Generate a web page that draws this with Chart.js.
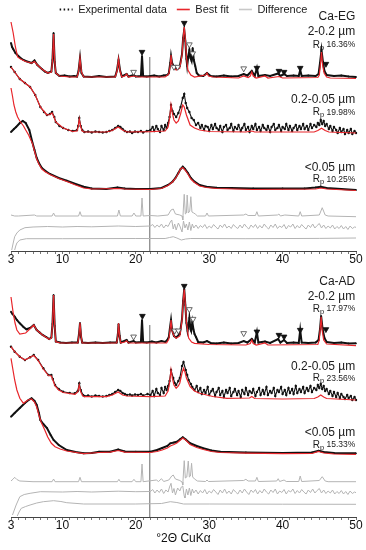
<!DOCTYPE html>
<html>
<head>
<meta charset="utf-8">
<script src="https://cdn.jsdelivr.net/npm/chart.js@4.4.1/dist/chart.umd.min.js"></script>
<style>
  html, body { margin: 0; padding: 0; background: #fff; }
  #wrap { position: relative; width: 366px; height: 550px; }
  canvas { position: absolute; left: 0; }
  #egChart { top: 0; }
  #adChart { top: 270px; }
</style>
</head>
<body>
<div id="wrap">
  <canvas id="egChart" width="366" height="270"></canvas>
  <canvas id="adChart" width="366" height="280"></canvas>
</div>
<script>
// x axis (°2θ)
const tickLabelsX = [3, 10, 20, 30, 40, 50];
const refAngle = 21.9;

// legend
const legendNames = ['Experimental data', 'Best fit', 'Difference'];

// panel texts
const sizeNames = ['2-0.2 µm', '0.2-0.05 µm', '<0.05 µm'];
const egRp = ['16.36%', '19.98%', '10.25%'];
const adRp = ['17.97%', '23.56%', '15.33%'];

// ---- Ca-EG, stacked intensities (a.u.) ----
const egCoarseExp = [[3.0,208],[3.15,204],[3.3,202],[3.6,198],[4.0,195],[4.3,193],[4.7,191],[5.0,190],[5.4,189],[5.8,188],[6.2,190.5],[6.6,186],[7.2,182],[7.6,179.5],[8.0,178],[8.5,179.5],[8.65,191],[8.8,218],[8.95,189],[9.1,178],[9.6,175],[10.3,175.5],[11,174.5],[11.6,175],[12.0,174.5],[12.2,180],[12.4,193],[12.6,178],[12.9,174.5],[14,174],[15,175],[16,174],[17.2,174.5],[17.45,181],[17.65,191],[17.85,181],[18.1,174.5],[18.75,177],[19.0,174.5],[19.7,176],[20,174.5],[20.7,175],[20.85,195],[21.0,175],[21.5,174.5],[22.5,175.5],[23.2,174.5],[23.8,175.5],[24.3,176],[24.5,178],[24.7,188],[24.8,195],[24.95,188],[25.2,184],[25.5,182],[26.0,185],[26.3,197],[26.45,213],[26.6,221],[26.75,210],[26.9,192],[27.0,185],[27.15,194],[27.3,201],[27.45,193],[27.6,190],[27.75,203],[27.9,191],[28.1,185],[28.3,178],[28.6,175.5],[29.2,175],[29.7,178],[30.2,175],[31,174.5],[32,175.5],[33,174.5],[34,175],[34.7,177],[35.2,175.5],[35.8,180],[36.2,175],[36.5,183],[36.7,175],[37.6,176],[38.3,175],[39.4,177.5],[39.7,175],[40.2,177],[40.6,175],[41.5,175.5],[42.2,175],[42.4,181],[42.6,175],[43.5,175.5],[44.5,175],[44.9,177],[45.1,188],[45.3,201],[45.5,189],[45.7,180],[46.0,176],[47,175],[48,175.5],[49,174.5],[50,174]];
const egCoarseFit = [[3.0,229],[3.3,218],[3.6,204],[3.9,194],[4.3,192],[5.0,189.5],[5.8,188],[6.2,189.5],[6.6,186],[7.2,182],[8.0,178],[8.5,179],[8.65,190],[8.8,217],[8.95,190],[9.1,178],[9.6,175],[11,174],[12.0,174],[12.2,179],[12.4,193],[12.6,179],[12.9,174],[17.2,174],[17.45,180],[17.65,192],[17.85,180],[18.1,174],[18.5,175],[18.75,177],[19.0,174],[19.8,175],[20.3,174],[24.0,174],[24.5,177],[24.7,186],[24.8,196],[24.95,186],[25.2,183],[25.5,181],[26.0,183],[26.3,196],[26.45,212],[26.6,224],[26.75,212],[26.9,194],[27.1,181],[27.5,176],[28,174],[29.5,176],[29.7,178],[29.9,175],[30.5,174],[34,173],[34.7,175],[35.3,173.5],[35.6,175],[35.8,179],[36.0,175],[36.4,173],[37.6,175],[38.0,173],[39.5,174.5],[40,173],[44.8,173.5],[45.0,176],[45.15,186],[45.3,199],[45.45,186],[45.65,178],[46.0,174],[46.5,173],[50,172.5]];
const egMidExp = [[3.0,184],[3.5,179],[4.2,172],[4.9,168],[5.6,164],[6.3,156],[7.0,144],[7.5,139],[7.9,136],[8.3,137],[8.6,139],[8.9,134],[9.1,129],[9.6,125],[10.1,123],[10.8,121],[11.4,120],[12.0,121],[12.15,125],[12.3,133],[12.5,125],[12.7,121],[13.0,119],[13.5,119.5],[14,118.5],[14.5,119.5],[15,119],[15.5,118.5],[16,119],[16.4,120],[16.8,121],[17.2,123],[17.6,125],[17.9,124],[18.2,122],[18.5,120],[18.8,119],[19.2,119.5],[19.5,118],[19.9,119.5],[20.3,119],[20.7,120],[21,118.5],[21.5,120],[22.0,121],[22.3,124],[22.5,120],[22.8,125],[23.0,122],[23.3,119],[23.5,125],[23.8,121],[24.0,126],[24.2,123],[24.4,128],[24.6,134],[24.8,146],[25.0,140],[25.2,137],[25.5,134],[25.8,138],[26.1,144],[26.4,153],[26.6,157],[26.8,148],[27.0,143],[27.3,139],[27.6,133],[27.9,131],[28.2,126],[28.5,128],[28.8,123],[29.0,126],[29.3,121],[29.5,125],[29.8,124],[30.0,120],[30.3,126],[30.5,122],[30.8,127],[31.0,123],[31.3,121],[31.5,125],[31.8,119],[32.0,124],[32.3,126],[32.5,121],[32.8,123],[33.0,127],[33.3,120],[33.5,124],[33.8,122],[34.0,126],[34.3,120],[34.5,123],[34.8,127],[35.0,121],[35.3,124],[35.5,119],[35.8,125],[36.0,122],[36.3,127],[36.5,121],[36.8,124],[37.0,120],[37.3,126],[37.5,123],[37.8,121],[38.0,125],[38.3,119],[38.5,124],[38.8,127],[39.0,121],[39.3,123],[39.5,126],[39.8,120],[40.0,124],[40.3,122],[40.5,127],[40.8,121],[41.0,125],[41.3,120],[41.5,123],[41.8,126],[42.0,121],[42.3,125],[42.5,122],[42.8,127],[43.0,122],[43.3,125],[43.5,121],[43.8,127],[44.0,123],[44.3,126],[44.6,124],[44.8,128],[45.0,126],[45.2,131],[45.4,127],[45.6,130],[45.8,125],[46.0,127],[46.3,122],[46.5,125],[46.8,120],[47.0,124],[47.3,121],[47.5,118],[47.8,123],[48.0,119],[48.3,122],[48.5,117],[48.8,121],[49.0,118],[49.3,122],[49.5,117],[49.8,120],[50,118]];
const egMidFit = [[3.0,184],[3.5,179],[4.2,172],[4.9,168],[5.6,164],[6.3,156],[7.0,144],[7.9,136],[8.3,136.5],[8.6,138],[8.9,133],[9.1,129],[10.1,123],[11.4,119.5],[12.0,120],[12.15,124],[12.3,132],[12.5,124],[12.7,120],[13.0,119],[16,119],[16.8,120.5],[17.6,124],[18.2,121],[18.8,119],[22,119.3],[24.0,120],[24.4,124],[24.6,132],[24.8,146],[25.0,137],[25.2,131],[25.5,128],[25.8,130],[26.1,137],[26.4,146],[26.6,144],[26.9,136],[27.4,126],[28.0,123],[28.7,121],[30,119.5],[35,119],[35.8,120],[36.2,119],[44.3,119],[44.8,120.5],[45.3,122.7],[45.8,120.5],[46.3,119],[50,118]];
const egFineExp = [[3.0,119],[3.4,122],[3.7,124],[4.2,128],[4.6,130],[5.0,128],[5.5,121],[5.9,109],[6.2,101],[6.5,93],[6.8,88],[7.2,83],[7.7,80],[8.3,77],[9.5,73],[10.6,70.3],[11.8,67],[12.9,64.3],[14,62.5],[16,62],[17.5,63.5],[18.5,62.5],[20,62],[22,62],[23.5,63],[24.4,66],[25.0,69.3],[25.4,73],[25.8,78],[26.1,82],[26.4,84.3],[26.7,82],[27.1,78],[27.5,73],[28.0,69.3],[28.7,66],[29.6,64.3],[31,63.3],[33,63],[36,62.5],[40,62.5],[43,62.5],[44.5,63.5],[45.2,64.3],[46,63],[48,62],[50,61]];
const egFineFit = [[3.0,163],[3.2,155],[3.4,146],[3.65,139],[3.9,134],[4.2,130],[4.4,128],[4.7,125],[5.0,121],[5.4,116],[5.7,111],[5.9,108],[6.2,100],[6.5,92],[6.8,87],[7.2,82],[7.7,79],[8.3,76.5],[9.5,72.5],[10.6,69.5],[11.8,66],[12.9,63],[14,62],[17.5,62.5],[18.5,62],[22,61.5],[23.5,62.5],[24.4,65.5],[25.0,69],[25.4,72.5],[25.8,77.5],[26.1,82],[26.4,83.5],[26.7,81],[27.1,77],[27.5,72],[28.0,68.5],[28.7,65],[29.6,63.5],[31,62.5],[36,61.5],[44.5,62],[45.2,63],[46,62],[50,60.5]];
const egCoarseDiff = [[3.0,36],[3.5,35],[4,35],[6.2,36],[6.5,35],[8.6,35],[8.8,38],[9.0,35],[12.2,35],[12.4,39.3],[12.6,35],[17.5,35],[17.7,41],[17.9,35],[19.5,35],[19.75,38],[20,35],[20.7,35],[20.85,53],[21.0,35],[22,35.5],[23,35],[24.4,36],[24.8,41],[25.1,42],[25.4,37],[26.0,36],[26.3,35],[26.4,31],[26.5,45],[26.6,56.7],[26.75,37],[26.9,38],[27.0,56],[27.15,38],[27.35,40],[27.5,54.3],[27.65,39],[27.9,38],[28.1,37],[28.4,35],[29.5,35],[29.7,38],[29.9,35],[34.7,36],[35,37],[35.3,35.5],[36.3,35.5],[36.5,39.3],[36.7,35],[39.3,36],[39.5,37],[39.7,35],[40.3,36],[42.2,35],[42.4,39.3],[42.6,35],[45.0,36],[45.4,43.3],[45.8,36],[46.2,35],[50,34.3]];
const egMidDiff = [[3.1,1],[3.3,8],[3.5,14.3],[3.8,18],[4.2,21],[4.9,23.3],[6,24],[8,24.5],[10,24],[12,24.5],[14,24.2],[17.6,25],[20,24.5],[22.0,25],[22.3,26.5],[22.6,23.5],[22.9,26],[23.2,24],[23.5,27],[23.8,23],[24.1,26],[24.4,24.5],[24.7,29],[24.9,31],[25.1,22],[25.3,27],[25.5,21],[25.8,28],[26.0,25],[26.3,19],[26.5,30],[26.7,23],[26.9,27],[27.1,21],[27.3,29],[27.5,20.5],[27.7,27],[27.9,23],[28.2,26],[28.5,22.5],[28.8,25.5],[29.1,23.5],[29.4,26.5],[29.7,22.5],[30.0,25],[30.3,23],[30.6,26.5],[30.9,24],[31.2,22],[31.5,26],[31.8,23.5],[32.1,27],[32.4,23],[32.7,25],[33.0,22.5],[33.3,26.5],[33.6,24],[33.9,22.5],[34.2,26],[34.5,23],[34.8,27],[35.1,24],[35.4,22],[35.7,26],[36.0,23.5],[36.3,26.5],[36.6,22.5],[36.9,25.5],[37.2,23],[37.5,27],[37.8,24],[38.1,22],[38.4,26],[38.7,23.5],[39.0,27],[39.3,22.5],[39.6,25],[39.9,23.5],[40.2,26.5],[40.5,22],[40.8,25.5],[41.1,24],[41.4,27],[41.7,22.5],[42.0,25.5],[42.3,23],[42.6,26.5],[42.9,24],[43.2,22],[43.5,26],[43.8,23.5],[44.1,27],[44.4,23],[44.7,25.5],[45.0,27.5],[45.3,23],[45.6,26],[45.9,22.5],[46.2,25],[46.5,23],[46.8,26],[47.1,22],[47.4,24.5],[47.7,22.5],[48.0,25.5],[48.3,22],[48.6,24.5],[48.9,21.5],[49.2,25],[49.5,22.5],[49.8,24],[50,23.7]];
const egFineDiff = [[3.5,1],[3.65,5],[3.8,8],[4.2,11],[5.1,12.3],[10,12.3],[20,12.5],[24,12.5],[24.6,13.5],[25.1,14.3],[25.6,13],[26.2,11],[26.8,12],[27.5,12.5],[35,12.3],[45,12.6],[50,13]];
const egFilledMarks = [[20.85,199],[26.6,228],[36.5,183],[39.5,180],[40.2,179],[42.4,183],[45.9,187]];
const egOpenMarks = [[19.7,179],[25.2,184],[25.7,184],[27.3,206.5],[27.75,197.5],[34.7,182.5]];

// ---- Ca-AD, stacked intensities (a.u.) ----
const adCoarseExp = [[3.0,205.3],[3.2,203],[3.5,200.3],[3.8,197],[4.2,193.7],[4.7,190],[5.1,187.7],[5.6,189],[6.1,192],[6.5,187],[6.9,184.5],[7.3,182],[7.8,180],[8.2,178],[8.5,179.5],[8.65,193],[8.8,222],[8.95,191],[9.1,175.5],[9.7,174.5],[10.5,174],[11.3,174.5],[12.1,174.5],[12.25,182],[12.4,194],[12.55,180],[12.7,174.5],[13.5,174],[14.5,174.5],[15.5,174],[16.5,174.5],[17.4,174.5],[17.55,182],[17.65,193],[17.8,181],[17.95,174.5],[18.75,177],[19.0,174.5],[19.7,176],[20.0,174.5],[20.7,175],[20.85,197],[21.0,175],[21.5,174.5],[22.2,175.5],[22.8,174.5],[23.5,176],[24.0,175],[24.3,177],[24.5,180],[24.65,189],[24.8,197],[24.95,187],[25.2,181],[25.5,179.5],[26.0,183],[26.3,198],[26.45,216],[26.6,228],[26.75,212],[26.9,194],[27.05,186],[27.2,192],[27.3,199],[27.45,188],[27.55,186],[27.7,195],[27.85,188],[28.0,183],[28.2,180],[28.5,175],[29.2,174.5],[29.7,176],[30.2,174],[31,173.5],[32,174.5],[33,173.5],[34,174],[34.7,176],[35.2,174.5],[35.8,178],[36.2,174.5],[36.5,185],[36.7,174.5],[37.6,175.5],[38.3,174],[39.4,178],[39.7,174.5],[40.2,177],[40.6,174],[41.5,174.5],[42.2,174],[42.4,187],[42.6,174.5],[43.5,174],[44.5,174.5],[44.9,177],[45.1,188],[45.25,201],[45.45,188],[45.7,179],[46.0,175],[47,174],[48,174.5],[49,173.5],[50,173.7]];
const adCoarseFit = [[3.0,220],[3.15,212],[3.3,204],[3.55,194],[3.8,187],[4.2,183],[5.0,184],[5.7,189],[6.1,192],[6.5,187],[7.3,182],[8.2,177.7],[8.5,179],[8.65,192],[8.8,222],[8.95,192],[9.1,175.3],[9.7,174],[12.1,174],[12.25,181],[12.4,194.3],[12.55,181],[12.7,174],[17.4,174],[17.55,181],[17.65,193.7],[17.8,181],[17.95,174],[18.5,175],[18.75,176.3],[19.0,174],[24.2,174],[24.5,178],[24.65,186],[24.8,197],[24.95,186],[25.2,181],[25.5,178.7],[26.0,181],[26.3,197],[26.45,215],[26.6,227.7],[26.75,213],[26.9,195],[27.2,179],[27.6,175],[28,173.7],[30,172.5],[35,172],[35.6,173.5],[35.8,177],[36.0,173.5],[36.4,172],[37.6,174],[38.0,172],[44.8,172.5],[45.0,177],[45.1,186],[45.25,200.3],[45.4,186],[45.6,177],[46.0,173],[50,171.3]];
const adMidExp = [[3.0,170.3],[3.5,165.3],[4.2,160.3],[4.9,157],[5.6,159.7],[6.1,162],[6.7,157],[7.4,148.7],[8.1,142],[8.5,142],[8.7,138],[9.0,132],[9.5,128],[10.1,125.3],[11.0,124],[11.7,123.7],[12.1,126],[12.3,133.7],[12.5,127],[12.8,122],[13.0,121],[13.5,121.5],[14,120.5],[14.5,121.5],[15,121],[15.5,120.5],[16,121],[16.4,122],[16.8,123],[17.2,125],[17.6,127],[17.9,126],[18.2,124],[18.5,123],[18.8,122],[19.2,122.5],[19.5,121.5],[19.9,122.5],[20.3,122],[20.7,123],[21,121.5],[21.6,123],[22.0,122],[22.3,126],[22.5,121],[22.8,128],[23.0,124],[23.3,122],[23.5,129],[23.8,124],[24.0,130],[24.2,127],[24.4,131],[24.6,136],[24.8,147],[25.1,139],[25.3,134],[25.5,132],[25.8,136],[26.0,139],[26.3,151],[26.5,155],[26.8,147],[27.0,142],[27.2,137],[27.5,133],[27.7,130],[28.0,127],[28.3,131],[28.5,125],[28.8,129],[29.0,123],[29.3,127],[29.5,124],[29.8,130],[30.0,122],[30.3,126],[30.5,128],[30.8,121],[31.0,125],[31.3,129],[31.5,122],[31.8,126],[32.0,120],[32.3,127],[32.5,124],[32.8,129],[33.0,121],[33.3,125],[33.5,128],[33.8,122],[34.0,126],[34.3,120],[34.5,127],[34.8,123],[35.0,129],[35.3,122],[35.5,126],[35.8,124],[36.0,128],[36.3,121],[36.5,125],[36.8,129],[37.0,122],[37.3,127],[37.5,123],[37.8,130],[38.0,122],[38.3,126],[38.5,124],[38.8,129],[39.0,121],[39.3,127],[39.5,125],[39.8,130],[40.0,123],[40.3,127],[40.5,122],[40.8,129],[41.0,124],[41.3,128],[41.5,123],[41.8,131],[42.0,124],[42.3,128],[42.5,125],[42.8,130],[43.0,124],[43.3,129],[43.5,126],[43.8,131],[44.0,125],[44.3,129],[44.6,127],[44.8,132],[45.0,129],[45.2,133],[45.4,128],[45.6,131],[45.8,126],[46.0,128],[46.3,123],[46.5,126],[46.8,121],[47.0,125],[47.3,120],[47.5,124],[47.8,119],[48.0,123],[48.3,120],[48.5,118],[48.8,122],[49.0,119],[49.3,121],[49.5,117],[49.8,120],[50,117]];
const adMidFit = [[3.0,170.3],[3.5,165.3],[4.2,160.3],[4.9,157],[5.6,159.7],[6.1,161.5],[6.7,156.5],[7.4,148],[8.1,141.5],[8.5,141],[8.7,137],[9.0,131],[9.5,127],[10.1,124.5],[11.7,122.7],[12.1,125],[12.3,132],[12.5,125],[12.8,121],[13.0,120.3],[16,120.3],[16.8,122],[17.6,125],[18.2,122],[18.8,121],[22,120.3],[24.0,121],[24.4,126],[24.6,134],[24.8,147],[25.0,138],[25.2,132],[25.5,128.7],[25.8,131],[26.0,134],[26.3,144],[26.5,148.7],[26.7,145],[26.9,139],[27.4,130.3],[28.0,126],[28.7,123.7],[30.5,120.5],[32.4,118.7],[35.5,119],[35.8,120.5],[36.2,118.5],[40,118],[44.3,118.5],[44.8,120],[45.2,122],[45.6,120],[46,118.5],[50,117]];
const adFineExp = [[3.0,100.3],[3.5,104],[4.2,109],[4.9,114],[5.4,117],[5.8,118.7],[6.2,116],[6.5,112],[6.8,104],[7.0,97],[7.4,93],[7.9,89],[8.4,82],[8.8,77],[9.5,72],[10.6,67],[11.8,65],[12.9,63.7],[14,64],[15,65.3],[16.5,65.3],[17.6,67.5],[18.5,65.5],[20,65.3],[22,65.3],[22.9,67],[23.6,69],[24.3,71],[24.7,73.7],[25.2,74.5],[25.6,75.3],[26.0,77.5],[26.4,79.7],[26.8,77.5],[27.4,73.7],[28.3,71],[29.2,68.7],[30.3,66.5],[31.5,65.3],[35,64.5],[40,64],[44,64.5],[44.9,66.3],[45.6,65],[47,64],[50,63.7]];
const adFineFit = [[3.0,158.7],[3.2,150],[3.5,137],[3.8,127],[4.2,118.7],[4.7,113.7],[5.3,117],[5.8,118],[6.2,115],[6.5,110],[6.8,102],[7.1,95],[7.6,87],[8.0,80],[8.5,73.7],[9.0,70.3],[9.7,68],[10.6,66],[12.9,63.3],[15,64.5],[16.5,64.8],[17.6,66.5],[18.5,64.8],[22,64.5],[22.9,65.5],[23.6,67],[24.3,69],[24.7,71],[25.2,72.5],[25.6,74],[26.0,76.5],[26.4,79],[26.8,77],[27.4,72.5],[28.3,69.5],[29.2,67.5],[30.3,65.5],[31.5,64.5],[35,63.8],[40,63.3],[44,63.5],[44.9,65.5],[45.6,64],[47,63],[50,62.7]];
const adCoarseDiff = [[3.0,36],[3.3,38],[3.5,39.7],[3.8,37.5],[4.2,36],[6,35.3],[8.6,35.3],[8.8,38],[9.0,35.3],[12.2,35.3],[12.4,39.7],[12.6,35.3],[17.5,35.3],[17.7,37.7],[17.9,35.3],[19.5,35.3],[19.75,37.7],[20,35.3],[20.7,35.3],[20.85,53],[21.0,35.3],[22.8,37],[23.1,35.5],[23.5,38.3],[23.8,35.5],[24.5,37],[24.9,41],[25.1,42],[25.4,38],[26.0,36.5],[26.3,35],[26.4,32],[26.5,45],[26.6,56.3],[26.75,39],[26.95,40],[27.15,56],[27.3,40],[27.45,41],[27.6,53.7],[27.75,40],[28.0,38],[28.4,36],[29.5,35.5],[29.7,37],[29.9,35.5],[34.7,36.5],[35,37.7],[35.3,36],[36.3,36],[36.5,39.7],[36.7,35.5],[39.2,36],[39.4,38.3],[39.6,35.5],[40.2,37],[40.5,35.5],[42.2,35.5],[42.4,41],[42.6,35.5],[45.0,36.5],[45.4,40.3],[45.8,36],[46.2,35.3],[50,35.3]];
const adMidDiff = [[3.2,2],[3.45,7],[3.7,12],[4.2,20.3],[4.8,22.5],[5.6,23.7],[7,25.3],[10,25],[12,25.5],[14,25],[17.6,25.8],[20,25.3],[22.0,25.5],[22.3,27.5],[22.6,24],[22.9,27],[23.2,24.5],[23.5,28],[23.8,23.5],[24.1,27],[24.4,25],[24.6,30],[24.8,33.7],[25.0,24],[25.2,28.5],[25.4,22],[25.7,29],[26.0,26],[26.2,30],[26.4,31],[26.6,21],[26.7,19],[26.9,28],[27.1,22],[27.3,29],[27.5,21.5],[27.7,28],[27.9,24],[28.2,27],[28.5,23],[28.8,26.5],[29.1,24],[29.4,27.5],[29.7,23],[30.0,26],[30.3,24],[30.6,27.5],[30.9,25],[31.2,22.5],[31.5,27],[31.8,24],[32.1,28],[32.4,23.5],[32.7,26],[33.0,23],[33.3,27.5],[33.6,25],[33.9,23],[34.2,27],[34.5,24],[34.8,28],[35.1,25],[35.4,22.5],[35.7,27],[36.0,24.5],[36.3,27.5],[36.6,23],[36.9,26.5],[37.2,24],[37.5,28],[37.8,25],[38.1,23],[38.4,27],[38.7,24.5],[39.0,28],[39.3,23],[39.6,26],[39.9,24.5],[40.2,27.5],[40.5,23],[40.8,26.5],[41.1,25],[41.4,28],[41.7,23.5],[42.0,26.5],[42.3,24],[42.6,27.5],[42.9,25],[43.2,23],[43.5,27],[43.8,24.5],[44.1,28],[44.4,24],[44.7,26.5],[45.0,28.5],[45.3,24],[45.6,27],[45.9,23.5],[46.2,26],[46.5,24],[46.8,27],[47.1,23],[47.4,25.5],[47.7,23.5],[48.0,26.5],[48.3,23],[48.6,25.5],[48.9,22.5],[49.2,26],[49.5,23.5],[49.8,25],[50,24.3]];
const adFineDiff = [[3.85,1],[4.1,5],[4.4,8.7],[5.0,10.5],[5.6,12],[6.5,14],[7.4,15.3],[8.8,16.3],[9.8,15.5],[10.6,14.3],[12.9,13],[20,13],[23.5,13.5],[24.7,15.3],[25.6,14.5],[26.5,13],[30,13],[40,12.8],[50,12.7]];
const adFilledMarks = [[20.9,201],[26.6,231],[36.5,185.3],[39.5,182],[40.2,180.3],[42.4,187],[45.9,187.7]];
const adOpenMarks = [[19.7,180.3],[25.3,186.3],[25.8,186.3],[27.3,207.7],[27.8,198],[34.7,183.7]];

const RED = '#e8262b';
const BLACK = '#111111';
const GREY = '#b4b4b4';
const FONT = "'Liberation Sans', Arial, sans-serif";

Chart.defaults.font.family = FONT;
Chart.defaults.color = '#1a1a1a';

function fitLine(data) {
  return { data, borderColor: RED, borderWidth: 1.2, pointRadius: 0, tension: 0, fill: false, clip: false, order: 1 };
}
// smooth patterns: thick black trace; noisy patterns: thin trace with dots
function expLine(data, noisy) {
  return {
    data, borderColor: BLACK, backgroundColor: BLACK,
    borderWidth: noisy ? 1.1 : 2, pointRadius: noisy ? 1.2 : 0.9, pointBorderWidth: 0,
    tension: 0, fill: false, clip: false, order: 2
  };
}
function diffLine(data) {
  return { data, borderColor: GREY, borderWidth: 1, pointRadius: 0, tension: 0, fill: false, clip: false, order: 3 };
}
function markSet(data, filled) {
  return {
    data, showLine: false, pointStyle: 'triangle', rotation: 180, pointRadius: 3.3,
    pointBackgroundColor: filled ? BLACK : '#fff', pointBorderColor: filled ? BLACK : '#444',
    pointBorderWidth: 0.8, clip: false, order: 0
  };
}
function refLine(top) {
  return { data: [[refAngle, 0], [refAngle, top]], borderColor: '#8a8a8a', borderWidth: 1.3, pointRadius: 0, clip: false, order: 4 };
}

// right-hand panel texts
const panelText = {
  id: 'panelText',
  afterDatasetsDraw(chart, args, o) {
    const { ctx, scales: { x, y } } = chart;
    const right = x.getPixelForValue(49.9);
    ctx.save();
    ctx.fillStyle = '#1a1a1a';
    ctx.textBaseline = 'middle';
    ctx.textAlign = 'right';
    ctx.font = '12px ' + FONT;
    o.heads.forEach((t, i) => ctx.fillText(t, right, y.getPixelForValue(o.headY[i])));
    o.rp.forEach((t, i) => {
      const py = y.getPixelForValue(o.rpY[i]);
      ctx.textAlign = 'left';
      ctx.font = '8.5px ' + FONT;
      const wVal = ctx.measureText(' ' + t).width;
      ctx.font = '7.5px ' + FONT;
      const wP = ctx.measureText('p').width;
      ctx.font = '10px ' + FONT;
      const wR = ctx.measureText('R').width;
      let px = right - wVal - wP - wR;
      ctx.fillText('R', px, py);
      px += wR;
      ctx.font = '7.5px ' + FONT;
      ctx.fillText('p', px, py + 2.5);
      px += wP;
      ctx.font = '8.5px ' + FONT;
      ctx.fillText(' ' + t, px, py);
    });
    ctx.restore();
  }
};

function xAxis(height, withTitle) {
  return {
    type: 'linear', min: 3, max: 50,
    afterBuildTicks: s => {
      const t = [];
      for (let v = 3; v <= 50; v++) t.push({ value: v });
      s.ticks = t;
    },
    afterFit: s => { s.height = height; },
    ticks: {
      autoSkip: false, maxRotation: 0, padding: -2, color: '#111',
      font: { size: 12 },
      callback: v => tickLabelsX.includes(v) ? String(v) : ''
    },
    grid: { drawOnChartArea: false, drawTicks: true, tickLength: 3, tickColor: '#555', tickWidth: 0.8 },
    border: { color: '#444', width: 1 },
    title: {
      display: withTitle, text: '°2Θ CuKα', color: '#111',
      font: { size: 12 }, padding: { top: 0, bottom: 4 }
    }
  };
}

new Chart(document.getElementById('egChart'), {
  type: 'line',
  data: {
    datasets: [
      markSet(egFilledMarks, true), markSet(egOpenMarks, false),
      fitLine(egCoarseFit), fitLine(egMidFit), fitLine(egFineFit),
      expLine(egCoarseExp, false), expLine(egMidExp, true), expLine(egFineExp, false),
      diffLine(egCoarseDiff), diffLine(egMidDiff), diffLine(egFineDiff),
      refLine(194)
    ]
  },
  options: {
    responsive: false, animation: false, events: [],
    layout: { padding: { top: -6, left: 11, right: 10, bottom: 0 } },
    scales: { x: xAxis(19, false), y: { display: false, min: 0, max: 233 } },
    plugins: {
      tooltip: { enabled: false },
      legend: {
        display: true, position: 'top', maxHeight: 24,
        labels: {
          usePointStyle: true, pointStyleWidth: 13, padding: 10, color: '#1a1a1a',
          font: { size: 11 },
          generateLabels: () => legendNames.map((text, i) => ({
            text,
            fillStyle: 'rgba(0,0,0,0)',
            strokeStyle: [BLACK, RED, '#c8c8c8'][i],
            lineWidth: [2, 1.6, 1.6][i],
            lineDash: i === 0 ? [1.5, 2.5] : [],
            lineCap: 'butt',
            pointStyle: 'line',
            hidden: false,
            fontColor: '#1a1a1a'
          }))
        }
      },
      panelText: {
        heads: ['Ca-EG'].concat(sizeNames), headY: [234, 219, 151, 83],
        rp: egRp, rpY: [206, 138.5, 71.5]
      }
    }
  },
  plugins: [panelText]
});

new Chart(document.getElementById('adChart'), {
  type: 'line',
  data: {
    datasets: [
      markSet(adFilledMarks, true), markSet(adOpenMarks, false),
      fitLine(adCoarseFit), fitLine(adMidFit), fitLine(adFineFit),
      expLine(adCoarseExp, false), expLine(adMidExp, true), expLine(adFineExp, false),
      diffLine(adCoarseDiff), diffLine(adMidDiff), diffLine(adFineDiff),
      refLine(192)
    ]
  },
  options: {
    responsive: false, animation: false, events: [],
    layout: { padding: { top: 10, left: 11, right: 10, bottom: 0 } },
    scales: { x: xAxis(33, true), y: { display: false, min: 0, max: 237 } },
    plugins: {
      tooltip: { enabled: false },
      legend: { display: false },
      panelText: {
        heads: ['Ca-AD'].concat(sizeNames), headY: [235, 220, 150, 84],
        rp: adRp, rpY: [208, 138.5, 72]
      }
    }
  },
  plugins: [panelText]
});
</script>
</body>
</html>
